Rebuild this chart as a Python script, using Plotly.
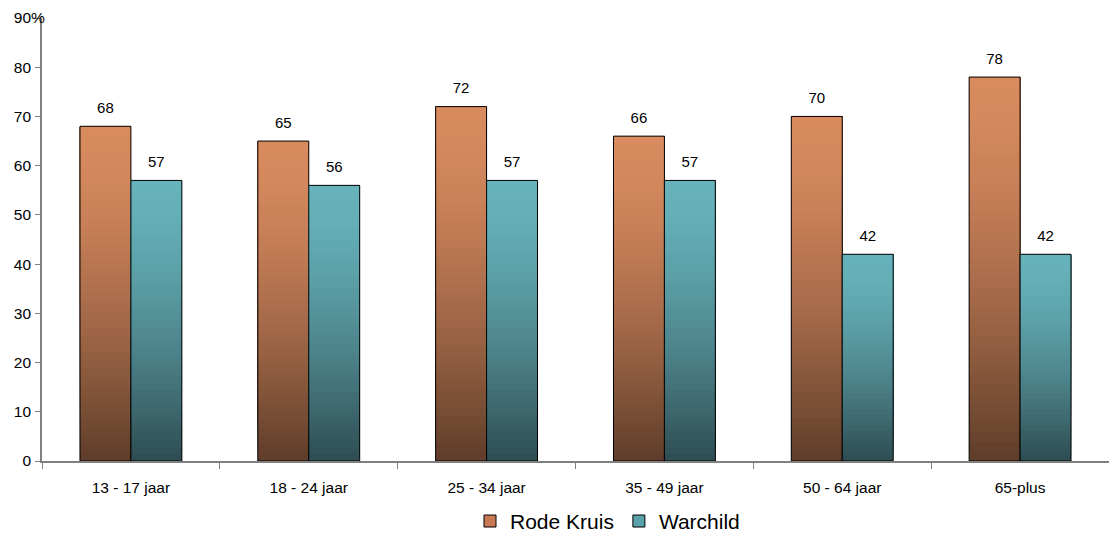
import plotly.graph_objects as go

categories = ["13 - 17 jaar", "18 - 24 jaar", "25 - 34 jaar", "35 - 49 jaar", "50 - 64 jaar", "65-plus"]
rode_kruis = [68, 65, 72, 66, 70, 78]
warchild = [57, 56, 57, 57, 42, 42]
ytick_vals = [0, 10, 20, 30, 40, 50, 60, 70, 80, 90]
ytick_text = ["0", "10", "20", "30", "40", "50", "60", "70", "80", "90%"]

series = [
    ("Rode Kruis", rode_kruis, "rk", (0xD9, 0x8B, 0x5F), (0x5E, 0x3D, 0x2A), "#C97A52"),
    ("Warchild", warchild, "wc", (0x67, 0xB3, 0xBB), (0x2E, 0x4C, 0x52), "#5AA3AB"),
]

FONT = "Liberation Sans, Arial"
N = 40
fig = go.Figure()

def mix(dark, light, g):
    return "rgb(%d,%d,%d)" % tuple(round(d + (l - d) * g) for d, l in zip(dark, light))

for name, vals, grp, light, dark, legcol in series:
    # gradient: overlapping slices, each running from its base to the bar top
    for i in range(N):
        t = (i + 0.5) / N
        g = 1 - (1 - t) ** 1.5
        fig.add_trace(go.Bar(
            x=categories, y=[v - v * i / N for v in vals], base=[v * i / N for v in vals],
            offsetgroup=grp, marker=dict(color=mix(dark, light, g), line=dict(width=0)),
            showlegend=False, hoverinfo="skip",
        ))
    # outline
    fig.add_trace(go.Bar(
        x=categories, y=vals, offsetgroup=grp, name=name,
        marker=dict(color="rgba(0,0,0,0)", line=dict(color="black", width=1)),
        showlegend=False,
    ))
    # legend entry
    fig.add_trace(go.Bar(
        x=categories, y=[None] * len(categories), offsetgroup=grp, name=name,
        marker=dict(color=legcol, line=dict(color="black", width=1)),
        showlegend=True,
    ))
    # value labels
    fig.add_trace(go.Scatter(
        x=categories, y=vals, offsetgroup=grp, mode="markers+text",
        marker=dict(size=14, opacity=0), text=[str(v) for v in vals],
        textposition="top center", textfont=dict(size=15, color="black", family=FONT),
        showlegend=False, hoverinfo="skip", cliponaxis=False,
    ))

# pad labels without a percent sign so all numbers line up as in the reference
pad = "<span style='color:rgba(0,0,0,0)'>%</span>"
ytick_labels = [t if t.endswith("%") else t + pad for t in ytick_text]

fig.update_layout(
    width=1109, height=536,
    barmode="group", bargap=0.427, bargroupgap=0,
    scattermode="group", scattergap=0.427,
    plot_bgcolor="white", paper_bgcolor="white",
    margin=dict(l=42, r=0, t=18, b=75, autoexpand=False),
    font=dict(family=FONT, size=15, color="black"),
    showlegend=True,
    legend=dict(orientation="h", x=0.53, xanchor="center", y=-0.09, yanchor="top",
                font=dict(size=21), itemwidth=30),
)
fig.update_xaxes(
    type="category", showline=True, linecolor="#808080", linewidth=2,
    ticks="outside", tickson="boundaries", ticklen=6, tickcolor="#808080",
    showgrid=False, tickfont=dict(size=15.5), ticklabelstandoff=11,
)
fig.update_yaxes(
    range=[0, 90], showline=True, linecolor="#808080", linewidth=2,
    ticks="outside", ticklen=5, tickcolor="#808080", showgrid=False, zeroline=False,
    tickvals=ytick_vals, ticktext=ytick_labels, tickfont=dict(size=15.5),
    ticklabelstandoff=-13,
)

fig.write_html("out.html", config={"displayModeBar": False},
               post_script="document.body.style.margin='0';document.body.style.overflow='hidden';")
